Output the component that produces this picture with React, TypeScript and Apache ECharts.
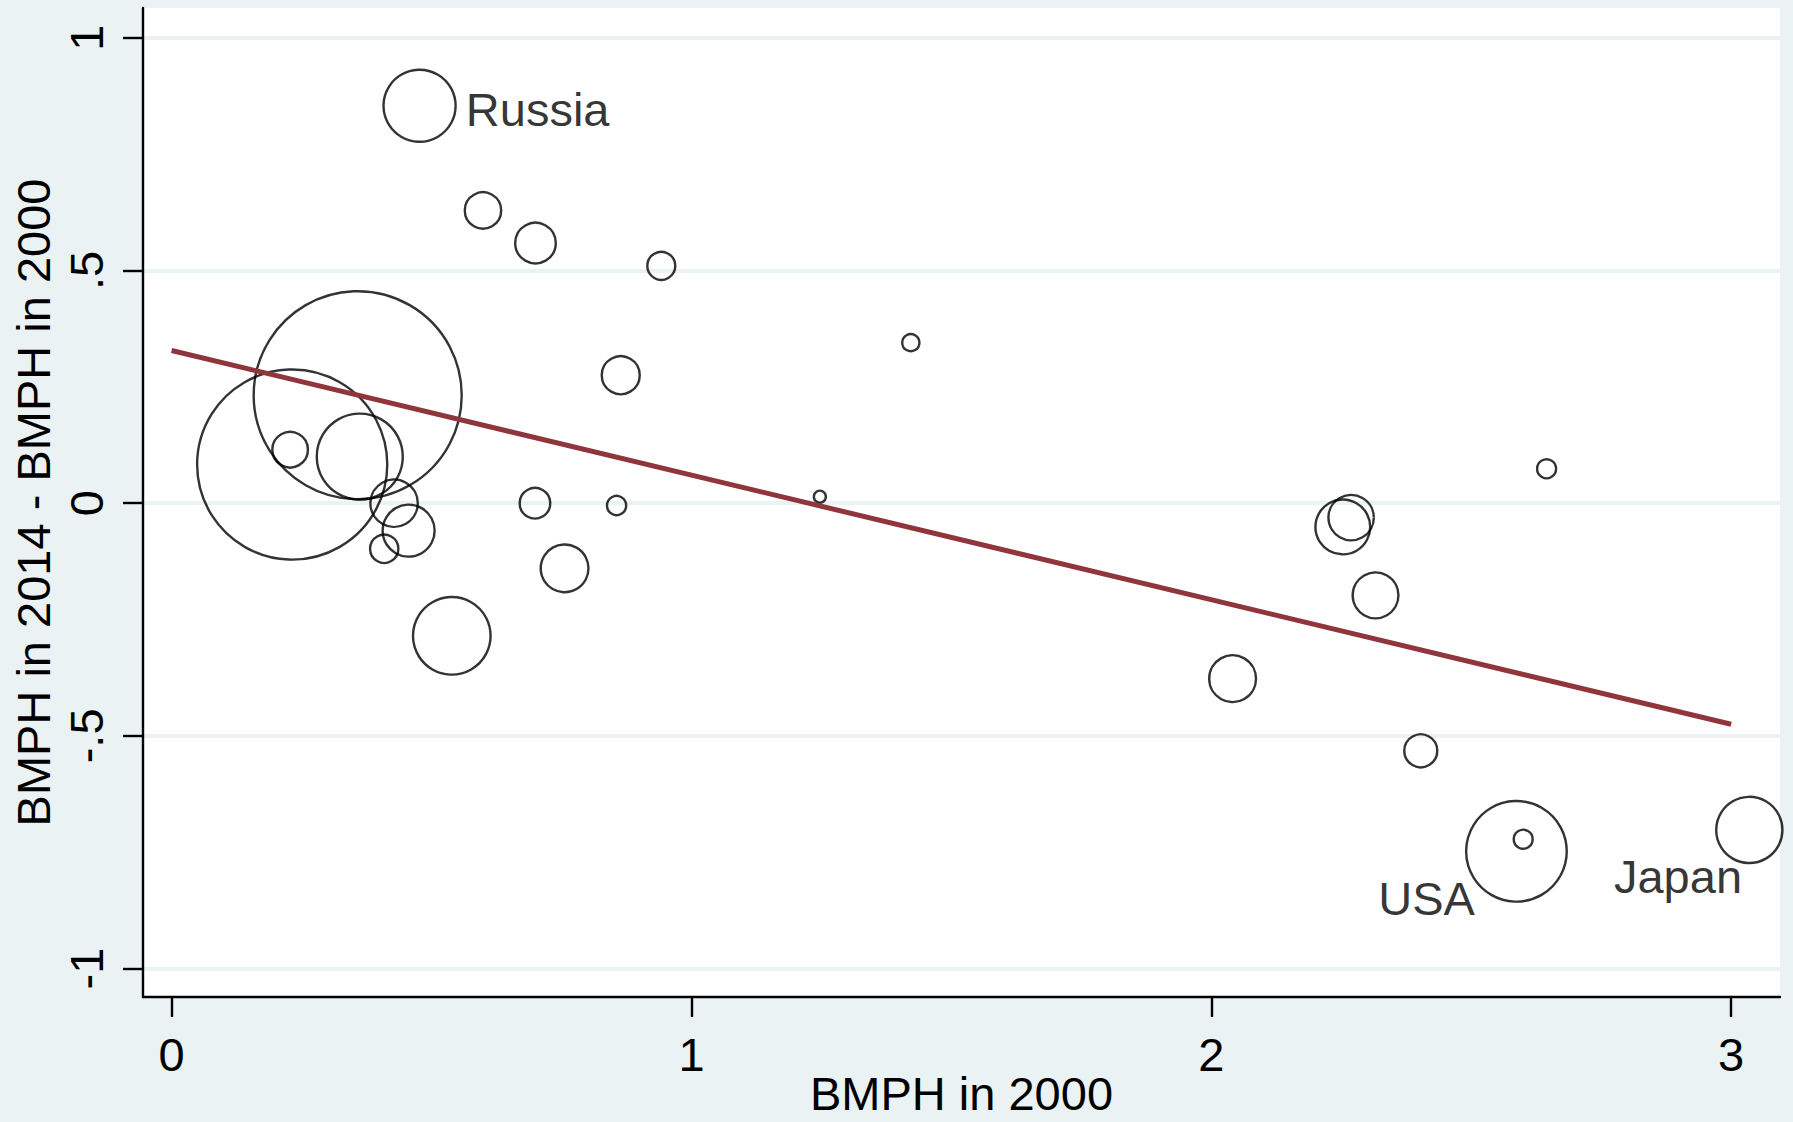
import React, { useEffect, useRef } from "react";
import * as echarts from "echarts";

// ---- data ----
const countries = [
  "Russia", "", "", "", "", "", "", "", "", "", "", "", "", "", "", "", "", "",
  "", "", "", "", "", "", "USA", "", "Japan",
];
const bmph2000 = [
  0.477, 0.599, 0.700, 0.942, 1.422, 0.864, 0.358, 0.232, 0.228, 0.362, 0.428,
  0.456, 0.409, 0.699, 0.856, 1.247, 0.756, 0.539, 2.645, 2.269, 2.253, 2.041,
  2.316, 2.403, 2.587, 2.600, 3.035,
];
const bmphChange = [
  0.854, 0.629, 0.559, 0.510, 0.345, 0.275, 0.232, 0.083, 0.115, 0.100, 0.000,
  -0.059, -0.098, 0.000, -0.005, 0.014, -0.140, -0.285, 0.074, -0.031, -0.051,
  -0.377, -0.198, -0.532, -0.748, -0.722, -0.702,
];
const weights = [
  13.0, 3.31, 4.12, 1.96, 0.74, 3.61, 108.2, 90.4, 3.17, 18.5, 5.62,
  6.76, 2.0, 2.34, 0.92, 0.36, 5.71, 15.05, 0.90, 5.15, 7.51,
  5.48, 5.24, 2.72, 25.3, 0.90, 10.96,
];

const xTicks = [0, 1, 2, 3];
const xTickLabels = ["0", "1", "2", "3"];
const yTicks = [-1, -0.5, 0, 0.5, 1];
const yTickLabels = ["-1", "-.5", "0", ".5", "1"];

const fitX = [0, 3];
const fitY = [0.328, -0.475];

const xTitle = "BMPH in 2000";
const yTitle = "BMPH in 2014 - BMPH in 2000";

// ---- styling ----
const FONT = "Liberation Sans, Arial, sans-serif";
const FS = 47;
const BG = "#EAF2F3";
const labelPlacement: Record<string, { position: string; offset: number[] }> = {
  Russia: { position: "right", offset: [4, 4] },
  USA: { position: "left", offset: [15, 47] },
  Japan: { position: "left", offset: [32, 47] },
};

function tickText(values: number[], labels: string[], v: number) {
  for (let i = 0; i < values.length; i++) {
    if (Math.abs(values[i] - v) < 1e-9) return labels[i];
  }
  return String(v);
}

export default function App() {
  const ref = useRef<HTMLDivElement>(null);

  useEffect(() => {
    if (!ref.current) return;
    const chart = echarts.init(ref.current, null, { renderer: "svg" });

    const scatterData = bmph2000.map((x, i) => {
      const name = countries[i];
      const lp = labelPlacement[name];
      return {
        name,
        value: [x, bmphChange[i], weights[i]],
        label: lp
          ? {
              show: true,
              formatter: name,
              position: lp.position,
              offset: lp.offset,
              distance: 5,
              fontSize: FS,
              fontFamily: FONT,
              color: "#000",
            }
          : { show: false },
      };
    });

    const fitData = fitX.map((x, i) => [x, fitY[i]]);

    chart.setOption({
      animation: false,
      backgroundColor: BG,
      textStyle: { fontFamily: FONT },
      grid: {
        left: 143,
        right: 13,
        top: 8,
        bottom: 125,
        containLabel: false,
        outerBoundsMode: "none",
        show: true,
        backgroundColor: "#ffffff",
        borderWidth: 0,
      },
      xAxis: {
        type: "value",
        min: -0.055,
        max: 3.094,
        name: xTitle,
        nameLocation: "middle",
        nameGap: 76,
        nameMoveOverlap: false,
        nameTextStyle: { fontSize: FS, lineHeight: 40, fontFamily: FONT, color: "#000" },
        axisLine: { show: true, onZero: false, lineStyle: { color: "#000", width: 2.4 } },
        axisTick: {
          show: true,
          customValues: xTicks,
          length: 20,
          inside: false,
          lineStyle: { color: "#000", width: 2.4 },
        },
        axisLabel: {
          customValues: xTicks,
          margin: 34,
          fontSize: FS,
          fontFamily: FONT,
          color: "#000",
          formatter: (v: number) => tickText(xTicks, xTickLabels, v),
        },
        splitLine: { show: false },
      },
      yAxis: {
        type: "value",
        min: -1.061,
        max: 1.064,
        name: yTitle,
        nameLocation: "middle",
        nameGap: 86,
        nameRotate: 90,
        nameMoveOverlap: false,
        nameTextStyle: { fontSize: FS, fontFamily: FONT, color: "#000" },
        axisLine: { show: true, onZero: false, lineStyle: { color: "#000", width: 2.4 } },
        axisTick: {
          show: true,
          customValues: yTicks,
          length: 20,
          inside: false,
          lineStyle: { color: "#000", width: 2.4 },
        },
        axisLabel: {
          customValues: yTicks,
          rotate: 90,
          margin: 33,
          fontSize: FS,
          fontFamily: FONT,
          color: "#000",
          formatter: (v: number) => tickText(yTicks, yTickLabels, v),
        },
        splitLine: { show: true, lineStyle: { color: BG, width: 4 } },
      },
      series: [
        {
          type: "scatter",
          z: 3,
          data: scatterData,
          symbol: "circle",
          symbolSize: (val: number[]) => 20 * Math.sqrt(val[2]),
          itemStyle: { color: "rgba(0,0,0,0)", borderColor: "#000", borderWidth: 2.4 },
          emphasis: { disabled: true },
          clip: false,
          silent: true,
        },
        {
          type: "line",
          z: 4,
          data: fitData,
          symbol: "none",
          lineStyle: { color: "#90353B", width: 5 },
          emphasis: { disabled: true },
          silent: true,
        },
      ],
    });

    return () => chart.dispose();
  }, []);

  return (
    <div
      ref={ref}
      style={{ position: "fixed", left: 0, top: 0, width: 1793, height: 1122 }}
    />
  );
}
